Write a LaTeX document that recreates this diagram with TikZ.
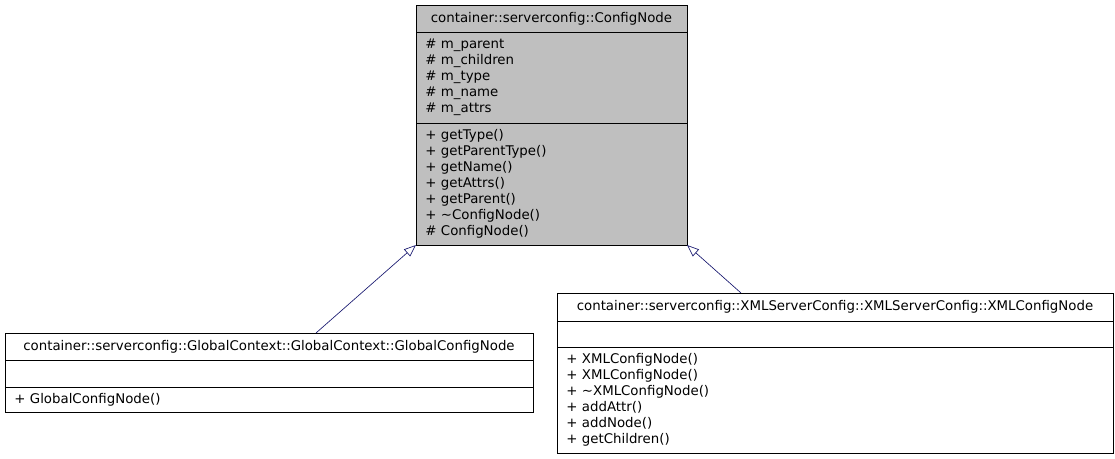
\documentclass[tikz,border=0pt]{standalone}
\usepackage{fontspec}
\setmainfont{DejaVu Sans}
\usetikzlibrary{arrows.meta}
\definecolor{edgeblue}{HTML}{191970}
\definecolor{basegray}{HTML}{BFBFBF}

\begin{document}
\begin{tikzpicture}[x=0.75pt, y=-0.75pt,
		part/.style={draw, line width=0.6pt, anchor=north west, outer sep=0pt, inner xsep=7pt, inner ysep=0pt, font=\fontsize{10}{12}\selectfont, align=left},
		inherit/.style={draw=edgeblue, line width=0.5pt, -{Triangle[open, length=9pt, width=7pt]}}]
		\useasboundingbox (0,0) rectangle (1115,459);
		% Classes
		%% Base class
		\node[part, fill=basegray, align=center, text width=189.25pt, minimum height=20.25pt] (CfgT) at (416,5) {container::serverconfig::ConfigNode};
		\node[part, fill=basegray, text width=189.25pt, minimum height=68.25pt] (CfgA) at (CfgT.south west) {\# m\_parent\\\# m\_children\\\# m\_type\\\# m\_name\\\# m\_attrs};
		\node[part, fill=basegray, text width=189.25pt, minimum height=91.5pt] (CfgO) at (CfgA.south west) {+ getType()\\+ getParentType()\\+ getName()\\+ getAttrs()\\+ getParent()\\+ \textasciitilde ConfigNode()\\\# ConfigNode()};
		%% Derived classes
		\node[part, align=center, text width=382pt, minimum height=20.25pt] (GlobT) at (5,333) {container::serverconfig::GlobalContext::GlobalContext::GlobalConfigNode};
		\node[part, text width=382pt, minimum height=20.25pt] (GlobA) at (GlobT.south west) {};
		\node[part, text width=382pt, minimum height=18.75pt] (GlobO) at (GlobA.south west) {+ GlobalConfigNode()};
		\node[part, align=center, text width=403pt, minimum height=21pt] (XmlT) at (557,293) {container::serverconfig::XMLServerConfig::XMLServerConfig::XMLConfigNode};
		\node[part, text width=403pt, minimum height=19.5pt] (XmlA) at (XmlT.south west) {};
		\node[part, text width=403pt, minimum height=79.5pt] (XmlO) at (XmlA.south west) {+ XMLConfigNode()\\+ XMLConfigNode()\\+ \textasciitilde XMLConfigNode()\\+ addAttr()\\+ addNode()\\+ getChildren()};
		% Connections
		\coordinate (GlobIn) at ([xshift=35.25pt]GlobT.north);
		\coordinate (XmlIn) at ([xshift=-70.5pt]XmlT.north);
		\draw [inherit] (GlobIn) -- (CfgO.south west);
		\draw [inherit] (XmlIn) -- (CfgO.south east);
	\end{tikzpicture}
\end{document}
